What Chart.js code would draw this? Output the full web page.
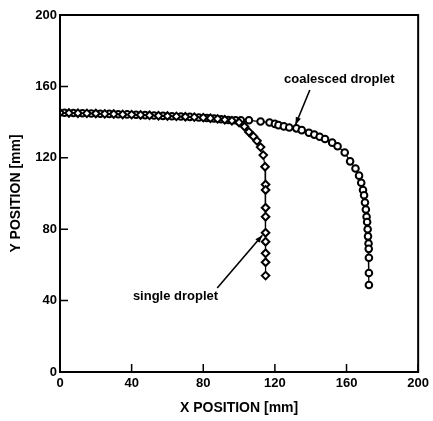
<!DOCTYPE html>
<html>
<head>
<meta charset="utf-8">
<script src="https://cdn.jsdelivr.net/npm/chart.js@4"></script>
<style>
    html, body { margin: 0; padding: 0; background: #fff; }
    #wrap { width: 433px; height: 421px; }
</style>
</head>
<body>
<div id="wrap"><canvas id="chart" width="433" height="421"></canvas></div>
<script>
// single droplet track (diamonds)
const singleX = [0, 5, 10, 15, 20, 25, 30, 35, 40, 45, 50, 55, 60, 65, 70, 75, 80, 84, 88, 92, 96,
    100, 103, 105.5, 108, 110, 112, 113.5, 114.5, 114.8, 114.8, 114.8, 114.8, 114.8, 114.8, 114.8, 114.8, 114.8];
const singleY = [145.2, 145.1, 145, 144.9, 144.8, 144.6, 144.5, 144.3, 144.2, 144, 143.8, 143.6, 143.4, 143.2, 143, 142.8, 142.5, 142.2, 141.8, 141.3, 140.8,
    139.8, 137.5, 134.5, 132, 129.5, 126, 121.5, 115, 105, 102, 92, 87, 78, 73, 66.5, 61.5, 54];

// coalesced droplet track (circles)
const coalescedX = [2.5, 7.5, 12.5, 17.5, 22.5, 27.5, 32.5, 37.5, 42.5, 47.5, 52.5, 57.5, 62.5, 67.5, 72.5, 77.5, 82, 86, 90, 94, 98,
    101, 105.5, 112, 117, 120, 122, 125, 128, 132, 135, 139, 142, 145, 148, 152, 155, 159, 162, 165, 167, 168.2, 169.2, 169.8,
    170.3, 170.8, 171.2, 171.5, 171.8, 172, 172.3, 172.4, 172.5, 172.5, 172.5];
const coalescedY = [145.2, 145.1, 145, 144.8, 144.7, 144.6, 144.4, 144.3, 144.1, 143.9, 143.7, 143.5, 143.3, 143.1, 142.9, 142.6, 142.3, 142, 141.6, 141.2, 141,
    141, 141, 140.3, 139.8, 139, 138.3, 137.6, 137, 136.5, 135.5, 134, 133, 131.8, 130.5, 128.5, 126.5, 123, 118, 114, 110, 106, 102, 99,
    95, 91, 87, 84, 80, 76, 72, 69, 64, 55.5, 48.7];

const xTicks = [0, 40, 80, 120, 160, 200];
const yTicks = [0, 40, 80, 120, 160, 200];

const callouts = [
    { text: "coalesced droplet", at: [156, 164], from: [139.5, 158], to: [131.5, 138.5] },
    { text: "single droplet", at: [64.5, 42.5], from: [87.8, 47], to: [113, 76.6] },
];

const FONT = '"Liberation Sans", Arial, sans-serif';

function toPoints(xs, ys) {
    return xs.map((x, i) => ({ x, y: ys[i] }));
}

const framePlugin = {
    id: "frame",
    afterDraw(chart) {
        const { ctx, chartArea, scales } = chart;
        ctx.save();
        ctx.strokeStyle = "#000";
        ctx.lineWidth = 2;
        ctx.strokeRect(chartArea.left, chartArea.top, chartArea.right - chartArea.left, chartArea.bottom - chartArea.top);

        // inward tick marks
        ctx.lineWidth = 1.5;
        ctx.beginPath();
        xTicks.forEach((v) => {
            const px = scales.x.getPixelForValue(v);
            ctx.moveTo(px, chartArea.bottom);
            ctx.lineTo(px, chartArea.bottom - 8);
        });
        yTicks.forEach((v) => {
            const py = scales.y.getPixelForValue(v);
            ctx.moveTo(chartArea.left, py);
            ctx.lineTo(chartArea.left + 8, py);
        });
        ctx.stroke();

        // callouts with arrows
        ctx.fillStyle = "#000";
        ctx.font = `bold 13px ${FONT}`;
        ctx.textAlign = "center";
        ctx.textBaseline = "middle";
        callouts.forEach((c) => {
            ctx.fillText(c.text, scales.x.getPixelForValue(c.at[0]), scales.y.getPixelForValue(c.at[1]));
            const x1 = scales.x.getPixelForValue(c.from[0]);
            const y1 = scales.y.getPixelForValue(c.from[1]);
            const x2 = scales.x.getPixelForValue(c.to[0]);
            const y2 = scales.y.getPixelForValue(c.to[1]);
            const angle = Math.atan2(y2 - y1, x2 - x1);
            ctx.lineWidth = 1.6;
            ctx.beginPath();
            ctx.moveTo(x1, y1);
            ctx.lineTo(x2, y2);
            ctx.stroke();
            ctx.beginPath();
            ctx.moveTo(x2, y2);
            ctx.lineTo(x2 - 8 * Math.cos(angle - 0.35), y2 - 8 * Math.sin(angle - 0.35));
            ctx.lineTo(x2 - 8 * Math.cos(angle + 0.35), y2 - 8 * Math.sin(angle + 0.35));
            ctx.closePath();
            ctx.fill();
        });
        ctx.restore();
    },
};

const tickFont = { family: FONT, size: 13, weight: "bold" };
const titleFont = { family: FONT, size: 14, weight: "bold" };

new Chart(document.getElementById("chart").getContext("2d"), {
    type: "scatter",
    data: {
        datasets: [
            {
                label: "single droplet",
                data: toPoints(singleX, singleY),
                showLine: true,
                borderColor: "#000",
                borderWidth: 1.2,
                pointStyle: "rectRot",
                pointRadius: 3.8,
                pointBorderWidth: 2,
                pointBorderColor: "#000",
                pointBackgroundColor: "#fff",
            },
            {
                label: "coalesced droplet",
                data: toPoints(coalescedX, coalescedY),
                showLine: true,
                borderColor: "#000",
                borderWidth: 1.2,
                pointStyle: "circle",
                pointRadius: 3.3,
                pointBorderWidth: 2,
                pointBorderColor: "#000",
                pointBackgroundColor: "#fff",
            },
        ],
    },
    options: {
        responsive: false,
        animation: false,
        layout: { padding: { top: 15, right: 13, left: 0, bottom: 0 } },
        plugins: {
            legend: { display: false },
            tooltip: { enabled: false },
        },
        scales: {
            x: {
                type: "linear",
                min: 0,
                max: 200,
                afterBuildTicks: (scale) => { scale.ticks = xTicks.map((value) => ({ value })); },
                ticks: { color: "#000", font: tickFont, padding: 4, maxRotation: 0 },
                grid: { display: false, drawTicks: false },
                border: { display: false },
                title: { display: true, text: "X POSITION [mm]", color: "#000", font: titleFont, padding: { top: 0, bottom: 4 } },
                afterFit: (scale) => { scale.height = 49; },
            },
            y: {
                type: "linear",
                min: 0,
                max: 200,
                afterBuildTicks: (scale) => { scale.ticks = yTicks.map((value) => ({ value })); },
                ticks: { color: "#000", font: tickFont, padding: 3 },
                grid: { display: false, drawTicks: false },
                border: { display: false },
                title: { display: true, text: "Y POSITION [mm]", color: "#000", font: titleFont, padding: { top: 8, bottom: 0 } },
                afterFit: (scale) => { scale.width = 60; },
            },
        },
    },
    plugins: [framePlugin],
});
</script>
</body>
</html>
